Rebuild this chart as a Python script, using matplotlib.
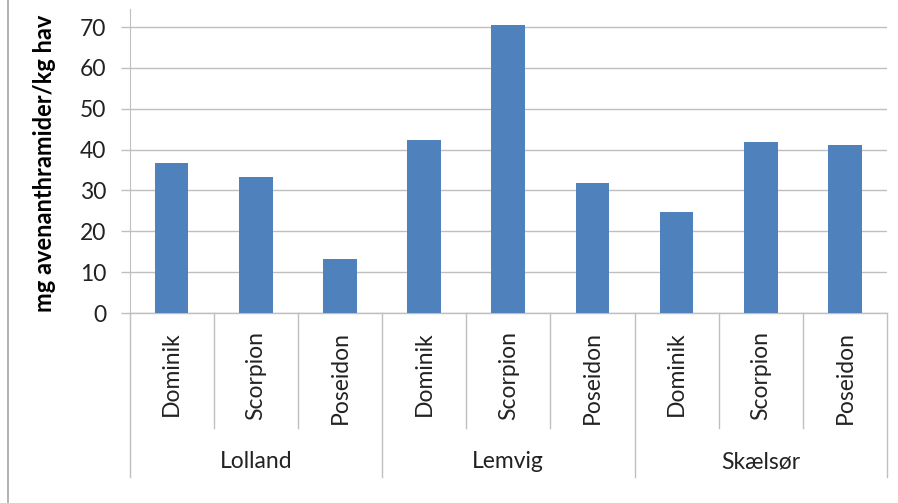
#!/usr/bin/env python3
"""Avenanthramide content per oat variety and location (grouped category axis)."""

import matplotlib.pyplot as plt
from matplotlib.lines import Line2D

locations = ["Lolland", "Lemvig", "Skælsør"]
varieties = ["Dominik", "Scorpion", "Poseidon"]
values = [36.7, 33.2, 13.1, 42.3, 70.4, 31.8, 24.8, 41.9, 41.2]

BAR = "#4F81BD"
GRID = "#BFBFBF"
FONT = ["Lato", "DejaVu Sans"]

plt.rcParams.update({"font.family": FONT})

W, H = 898, 503
fig = plt.figure(figsize=(W / 100, H / 100), dpi=100)
fig.patch.set_facecolor("white")

left, right, bottom, top = 129.5, 887, 313, 9
ax = fig.add_axes([left / W, 1 - bottom / H, (right - left) / W, (bottom - top) / H])

n = len(values)
xs = list(range(n))
ax.bar(xs, values, width=0.4, color=BAR, zorder=3)

ax.set_xlim(-0.5, n - 0.5)
ax.set_ylim(0, 70 + 18 / 4.08)
ax.set_yticks(range(0, 71, 10))
ax.yaxis.grid(True, color=GRID, linewidth=1.0, zorder=0)
ax.tick_params(axis="y", length=6.5, width=1, color=GRID, labelsize=16.5, pad=10,
               labelcolor="#222222")
ax.set_xticks([])
for side in ("top", "right", "bottom"):
    ax.spines[side].set_visible(False)
ax.spines["left"].set_color(GRID)

# multi-level category axis
xt = ax.get_xaxis_transform()
ax.plot([-0.5, n - 0.5], [0, 0], color=GRID, lw=1.0, transform=xt, clip_on=False)
for b in range(n + 1):
    edge = b - 0.5
    y_end = -0.54 if b % 3 == 0 else -0.378
    ax.plot([edge, edge], [0, y_end], color=GRID, lw=1.0, transform=xt, clip_on=False)

for i in xs:
    ax.text(i, -0.06, varieties[i % 3], rotation=90, ha="center", va="top",
            fontsize=16.5, color="#222222", transform=xt)

for g, loc in enumerate(locations):
    ax.text(g * 3 + 1, -0.49, loc, ha="center", va="center",
            fontsize=16.5, color="#222222", transform=xt)

# the label is cropped at the top in the source image; keep the visible part
fig.text(45 / W, 1 - 312 / H, "mg avenanthramider/kg hav", rotation=90,
         ha="center", va="bottom", fontsize=17, fontweight="bold", color="black")

fig.add_artist(Line2D([7.5 / W, 7.5 / W], [0, 1], color="#A6A6A6", lw=1.2))

fig.savefig("out.png", dpi=100, facecolor="white")
